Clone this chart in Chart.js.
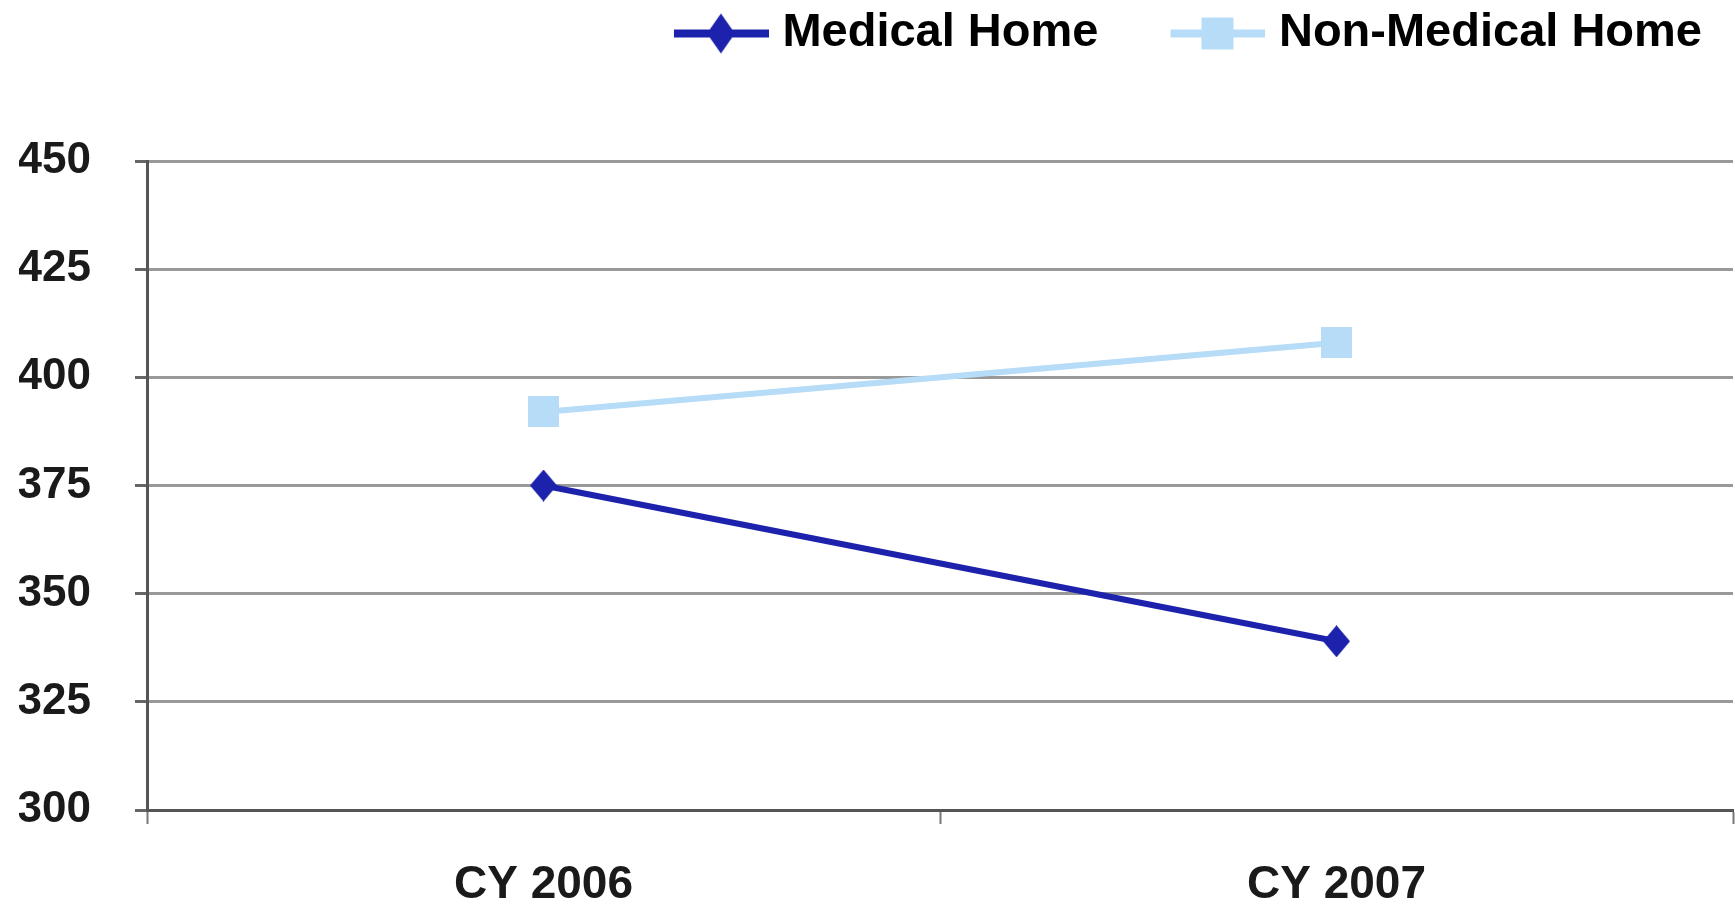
<!DOCTYPE html>
<html>
<head>
<meta charset="utf-8">
<script src="https://cdn.jsdelivr.net/npm/chart.js@4.4.0/dist/chart.umd.min.js"></script>
<style>
  html, body { margin: 0; padding: 0; background: #fff; }
  #wrap { width: 1735px; height: 907px; }
</style>
</head>
<body>
<div id="wrap"><canvas id="chart"></canvas></div>
<script>
const categories = ['CY 2006', 'CY 2007'];
const seriesNames = ['Medical Home', 'Non-Medical Home'];
const medicalHome = [375, 339];
const nonMedicalHome = [392, 408];
const yMin = 300;
const yMax = 450;
const yStep = 25;

const FONT = "'Liberation Sans', Arial, sans-serif";
const DARK_BLUE = '#1c22ac';
const LIGHT_BLUE = '#b6dcf7';

// marker pictures, drawn once on small canvases
function markerCanvas(shape, w, h, color) {
    const c = document.createElement('canvas');
    c.width = w;
    c.height = h;
    const g = c.getContext('2d');
    g.fillStyle = color;
    if (shape === 'diamond') {
        g.beginPath();
        g.moveTo(w / 2, 0);
        g.lineTo(w, h / 2);
        g.lineTo(w / 2, h);
        g.lineTo(0, h / 2);
        g.closePath();
        g.fill();
    } else {
        g.fillRect(0, 0, w, h);
    }
    return c;
}

// legend symbol: line with marker, pushed to the right part of the picture
function legendCanvas(shape, color, totalW) {
    const c = document.createElement('canvas');
    c.width = totalW;
    c.height = 44;
    const g = c.getContext('2d');
    const x0 = totalW - 95;
    g.strokeStyle = color;
    g.lineWidth = 8;
    g.beginPath();
    g.moveTo(x0, 22);
    g.lineTo(totalW, 22);
    g.stroke();
    const mw = shape === 'diamond' ? 28 : 32;
    const mh = shape === 'diamond' ? 40 : 32;
    g.drawImage(markerCanvas(shape, mw, mh, color), x0 + 47 - mw / 2, 22 - mh / 2);
    return c;
}

const boxW = 147;
const legendImgs = [
    legendCanvas('diamond', DARK_BLUE, boxW + 20),
    legendCanvas('square', LIGHT_BLUE, boxW + 20)
];

// extra room under the legend, and legend pulled in from the right edge
const legendMargin = {
    id: 'legendMargin',
    beforeInit(chart) {
        const fit = chart.legend.fit;
        chart.legend.fit = function () {
            fit.bind(chart.legend)();
            this.height += 94;
        };
    },
    afterLayout(chart) {
        chart.legend.right -= 21;
    }
};

new Chart(document.getElementById('chart'), {
    type: 'line',
    data: {
        labels: categories,
        datasets: [{
            label: seriesNames[0],
            data: medicalHome,
            borderColor: DARK_BLUE,
            backgroundColor: DARK_BLUE,
            borderWidth: 6,
            pointStyle: markerCanvas('diamond', 27, 32, DARK_BLUE),
            tension: 0
        }, {
            label: seriesNames[1],
            data: nonMedicalHome,
            borderColor: LIGHT_BLUE,
            backgroundColor: LIGHT_BLUE,
            borderWidth: 6,
            pointStyle: markerCanvas('square', 31, 31, LIGHT_BLUE),
            tension: 0
        }]
    },
    options: {
        responsive: true,
        maintainAspectRatio: false,
        animation: false,
        layout: { autoPadding: false, padding: { left: 19, right: 2, top: 0, bottom: 0 } },
        scales: {
            x: {
                offset: true,
                afterFit(scale) {
                    scale.height = 97;
                    scale.paddingLeft = 0;
                    scale.paddingRight = 0;
                },
                grid: {
                    offset: true,
                    drawOnChartArea: false,
                    tickLength: 14,
                    tickWidth: 2,
                    tickColor: '#777'
                },
                border: { color: '#555', width: 3 },
                ticks: {
                    padding: 39,
                    color: '#1a1a1a',
                    font: { family: FONT, size: 46, weight: 'bold', lineHeight: 0.96 }
                }
            },
            y: {
                min: yMin,
                max: yMax,
                afterFit(scale) { scale.width = 128; },
                grid: {
                    color: '#999',
                    lineWidth: 3,
                    tickLength: 12,
                    tickColor: '#666'
                },
                border: { color: '#555', width: 3 },
                ticks: {
                    stepSize: yStep,
                    padding: 44,
                    color: '#1a1a1a',
                    font: { family: FONT, size: 44, weight: 'bold' }
                }
            }
        },
        plugins: {
            tooltip: { enabled: false },
            legend: {
                position: 'top',
                align: 'end',
                labels: {
                    usePointStyle: true,
                    pointStyleWidth: boxW,
                    padding: 10,
                    color: '#1a1a1a',
                    font: { family: FONT, size: 47, weight: 'bold' },
                    generateLabels: chart => chart.data.datasets.map((ds, i) => ({
                        text: ds.label,
                        pointStyle: legendImgs[i],
                        fillStyle: ds.borderColor,
                        strokeStyle: ds.borderColor,
                        lineWidth: 0,
                        hidden: false,
                        datasetIndex: i
                    }))
                }
            }
        }
    },
    plugins: [legendMargin]
});
</script>
</body>
</html>
